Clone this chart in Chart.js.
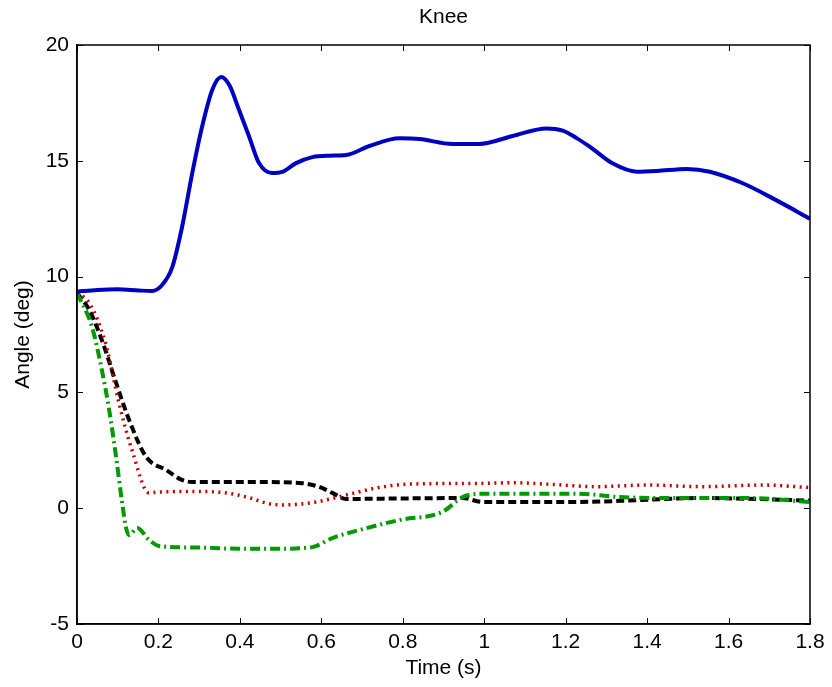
<!DOCTYPE html>
<html>
<head>
<meta charset="utf-8">
<script src="https://cdn.jsdelivr.net/npm/chart.js@4/dist/chart.umd.min.js"></script>
<style>
html,body{margin:0;padding:0;background:#fff;}
#wrap{width:832px;height:687px;}
</style>
</head>
<body>
<div id="wrap"><canvas id="c" width="832" height="687"></canvas></div>
<script>
const chartTitle = 'Knee';
const xLabel = 'Time (s)';
const yLabel = 'Angle (deg)';

const blueTime = [0, 0.05, 0.1, 0.152, 0.184, 0.209, 0.234, 0.258, 0.283, 0.307, 0.332, 0.354, 0.374, 0.398, 0.423, 0.447, 0.479, 0.504, 0.538, 0.578, 0.62, 0.661, 0.718, 0.792, 0.841, 0.922, 0.988, 1.07, 1.153, 1.193, 1.227, 1.259, 1.315, 1.374, 1.424, 1.497, 1.554, 1.635, 1.719, 1.8];
const blueAngle = [9.35, 9.42, 9.45, 9.4, 9.38, 9.64, 10.41, 12.14, 14.47, 16.46, 18.06, 18.62, 18.27, 17.19, 16.03, 14.9, 14.47, 14.52, 14.9, 15.16, 15.22, 15.25, 15.64, 15.97, 15.94, 15.73, 15.73, 16.07, 16.4, 16.3, 15.98, 15.61, 14.89, 14.53, 14.56, 14.65, 14.53, 14.03, 13.28, 12.5];

const redTime = [0, 0.03, 0.07, 0.103, 0.135, 0.177, 0.2, 0.3, 0.37, 0.423, 0.47, 0.504, 0.588, 0.661, 0.75, 0.834, 0.988, 1.07, 1.153, 1.276, 1.4, 1.537, 1.684, 1.8];
const redAngle = [9.3, 8.86, 7.13, 4.54, 2.51, 0.66, 0.7, 0.72, 0.65, 0.45, 0.2, 0.14, 0.27, 0.57, 0.92, 1.05, 1.07, 1.1, 1.04, 0.93, 1.0, 0.93, 1.0, 0.89];

const blackTime = [0, 0.03, 0.061, 0.096, 0.128, 0.17, 0.219, 0.258, 0.283, 0.423, 0.546, 0.595, 0.627, 0.661, 0.792, 0.947, 0.996, 1.234, 1.38, 1.53, 1.8];
const blackAngle = [9.3, 8.56, 7.26, 5.41, 3.81, 2.21, 1.65, 1.22, 1.13, 1.13, 1.09, 0.92, 0.66, 0.4, 0.42, 0.44, 0.27, 0.27, 0.35, 0.44, 0.33];

const greenTime = [0, 0.037, 0.061, 0.079, 0.096, 0.111, 0.12, 0.128, 0.148, 0.177, 0.202, 0.3, 0.4, 0.5, 0.578, 0.627, 0.711, 0.792, 0.897, 0.947, 0.988, 1.234, 1.333, 1.48, 1.645, 1.8];
const greenAngle = [9.3, 7.82, 5.97, 4.24, 2.21, 0.22, -0.81, -1.16, -0.86, -1.37, -1.63, -1.7, -1.75, -1.75, -1.68, -1.29, -0.86, -0.51, -0.16, 0.48, 0.62, 0.62, 0.48, 0.44, 0.44, 0.27];

const xMin = 0, xMax = 1.8, xStep = 0.2;
const yMin = -5, yMax = 20, yStep = 5;

function pts(t, v){ return t.map((x,i)=>({x:x, y:v[i]})); }
function fmt(v){ return String(Math.round(v*10)/10); }

const innerTicks = {
  id:'innerTicks',
  afterDraw(chart){
    const {ctx, chartArea:a, scales} = chart;
    ctx.save();
    ctx.strokeStyle = '#000';
    ctx.lineWidth = 1;
    const L = 6;
    scales.x.ticks.forEach(t=>{
      const px = Math.round(scales.x.getPixelForValue(t.value)) + 0.5;
      ctx.beginPath();
      ctx.moveTo(px, a.bottom); ctx.lineTo(px, a.bottom - L);
      ctx.moveTo(px, a.top); ctx.lineTo(px, a.top + L);
      ctx.stroke();
    });
    scales.y.ticks.forEach(t=>{
      const py = Math.round(scales.y.getPixelForValue(t.value)) + 0.5;
      ctx.beginPath();
      ctx.moveTo(a.left, py); ctx.lineTo(a.left + L, py);
      ctx.moveTo(a.right, py); ctx.lineTo(a.right - L, py);
      ctx.stroke();
    });
    ctx.lineWidth = 1.5;
    ctx.strokeRect(a.left, a.top, a.right - a.left, a.bottom - a.top);
    ctx.restore();
  }
};

const FONT = "'Liberation Sans', Arial, sans-serif";

new Chart(document.getElementById('c'), {
  type:'line',
  data:{
    datasets:[
      {data:pts(blueTime, blueAngle), borderColor:'#0000c0', borderWidth:4, pointRadius:0, cubicInterpolationMode:'monotone', fill:false},
      {data:pts(redTime, redAngle), borderColor:'#c00000', borderWidth:3.5, borderDash:[2,4.5], pointRadius:0, cubicInterpolationMode:'monotone', fill:false},
      {data:pts(greenTime, greenAngle), borderColor:'#009a00', borderWidth:4, borderDash:[10,4,2,4], pointRadius:0, cubicInterpolationMode:'monotone', fill:false},
      {data:pts(blackTime, blackAngle), borderColor:'#000000', borderWidth:4, borderDash:[8,4], pointRadius:0, cubicInterpolationMode:'monotone', fill:false}
    ]
  },
  options:{
    responsive:false,
    animation:false,
    layout:{padding:{left:0, right:22, top:0, bottom:0}},
    plugins:{
      legend:{display:false},
      tooltip:{enabled:false},
      title:{display:true, text:chartTitle, fullSize:false, color:'#000', font:{family:FONT, size:21, weight:'normal'}, padding:{top:4.5, bottom:15.3}}
    },
    scales:{
      x:{
        type:'linear', min:xMin, max:xMax,
        afterFit(s){ s.height = 63; },
        grid:{display:false, drawTicks:false},
        border:{display:true, color:'#000', width:1.5},
        ticks:{stepSize:xStep, color:'#000', padding:6, maxRotation:0, font:{family:FONT, size:21}, callback:(v)=>fmt(v)},
        title:{display:true, text:xLabel, color:'#000', font:{family:FONT, size:21}, padding:{top:0, bottom:6.5}}
      },
      y:{
        type:'linear', min:yMin, max:yMax,
        afterFit(s){ s.width = 77; },
        grid:{display:false, drawTicks:false},
        border:{display:true, color:'#000', width:1.5},
        ticks:{stepSize:yStep, color:'#000', padding:8, font:{family:FONT, size:21}, callback:(v)=>fmt(v)},
        title:{display:true, text:yLabel, color:'#000', font:{family:FONT, size:21}, padding:{top:11, bottom:0}}
      }
    }
  },
  plugins:[innerTicks]
});
</script>
</body>
</html>
